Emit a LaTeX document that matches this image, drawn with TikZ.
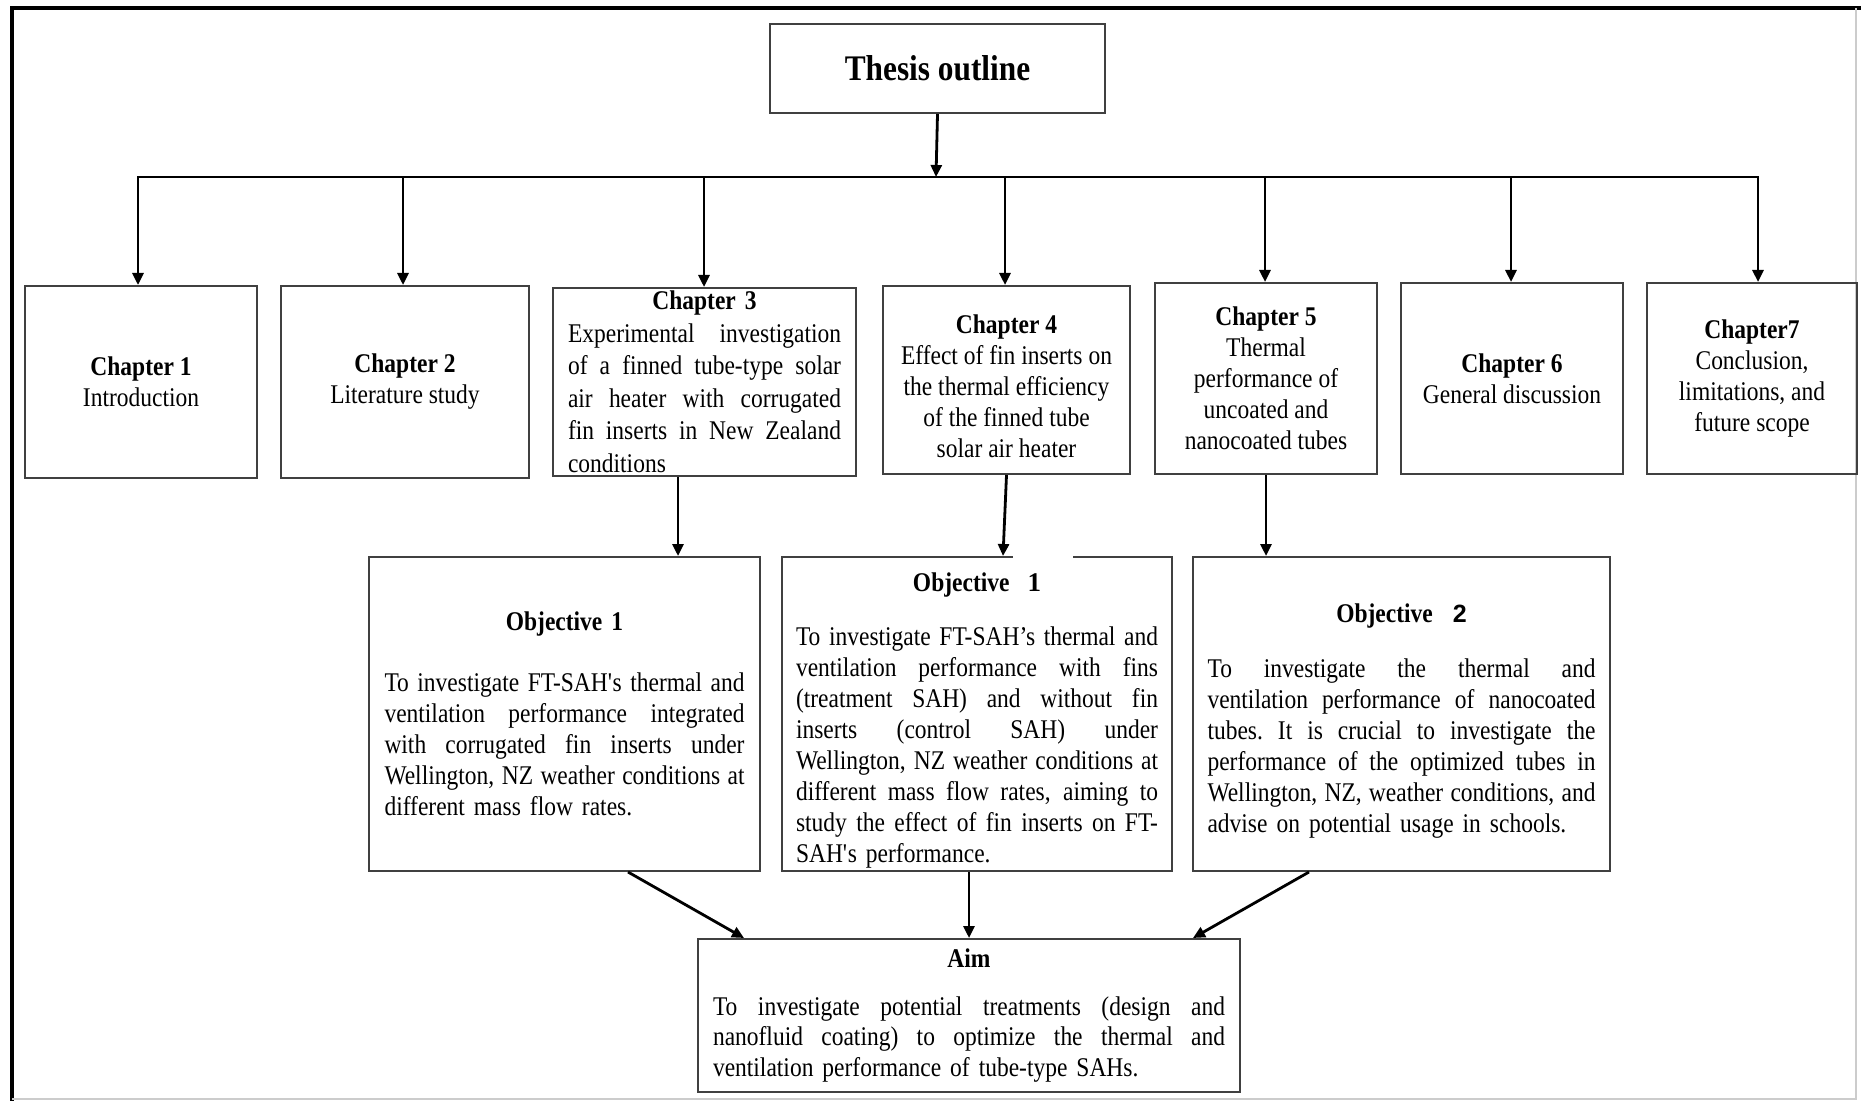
\documentclass[tikz,border=0pt]{standalone}
\usepackage{fontspec}
\setmainfont{Liberation Serif}[FakeStretch=0.87]
\newfontfamily\digserif{Liberation Serif}
\newfontfamily\digsans{Liberation Sans}
\usetikzlibrary{arrows.meta}
% one justified line of a paragraph, and one centred line
\newcommand{\jl}[1]{\leavevmode\hbox to\hsize{\spaceskip=0.25em plus 1fil\relax\xspaceskip=\spaceskip #1}\\}
\newcommand{\ctr}[1]{\leavevmode\hbox to\hsize{\hss#1\hss}}
\newcommand{\tallstrut}{\rule{0pt}{16pt}}
\begin{document}
\begin{tikzpicture}[x=0.5pt,y=-0.5pt,
  box/.style={draw=black!75, line width=1pt, inner sep=0pt, anchor=north west,
              font=\fontsize{13.5}{15.5}\selectfont},
  chap/.style={box, align=center},
  para/.style={box, align=left},
  link/.style={line width=1.4pt, black},
  arr/.style={link, -{Triangle[length=6pt,width=5.5pt]}}]
\useasboundingbox (0,0) rectangle (1861,1101);

% outer frame
\draw[line width=2.4pt] (12,1101) -- (12,8) -- (1861,8);
\draw[black!20, line width=1pt] (1856,8) -- (1856,1099) -- (12,1099);

% title
\node[box, minimum width=167.5pt, minimum height=44.5pt,
      font=\fontsize{18}{22}\selectfont\bfseries] (thesis) at (769,23) {Thesis outline};

% chapters
\node[chap, minimum width=116pt, minimum height=96pt] (ch1) at (24,285)
  {\textbf{Chapter 1}\\Introduction};
\node[chap, minimum width=124pt, minimum height=96pt] (ch2) at (280,285)
  {\textbf{Chapter 2}\\Literature study};
\node[para, text width=136.5pt, minimum width=151.5pt, minimum height=94pt,
      font=\fontsize{13.5}{16.25}\selectfont] (ch3) at (552,287)
  {\ctr{\textbf{Chapter 3}}\\
   \jl{Experimental investigation}
   \jl{of a finned tube-type solar}
   \jl{air heater with corrugated}
   \jl{fin inserts in New Zealand}
   conditions};
\node[chap, minimum width=123.5pt, minimum height=94pt] (ch4) at (882,285)
  {\tallstrut\textbf{Chapter 4}\\Effect of fin inserts on\\the thermal efficiency\\of the finned tube\\solar air heater};
\node[chap, minimum width=111pt, minimum height=95.5pt] (ch5) at (1154,282)
  {\textbf{Chapter 5}\\Thermal\\performance of\\uncoated and\\nanocoated tubes};
\node[chap, minimum width=111pt, minimum height=95.5pt] (ch6) at (1400,282)
  {\textbf{Chapter 6}\\General discussion};
\node[chap, minimum width=105pt, minimum height=95.5pt] (ch7) at (1646,282)
  {\textbf{Chapter7}\\Conclusion,\\limitations, and\\future scope};

% objectives
\node[para, text width=180pt, minimum width=195.5pt, minimum height=157pt] (obj1) at (368,556)
  {\ctr{\textbf{Objective 1}}\\[15pt]
   \jl{To investigate FT-SAH\textquotesingle s thermal and}
   \jl{ventilation performance integrated}
   \jl{with corrugated fin inserts under}
   \jl{Wellington, NZ weather conditions at}
   different mass flow rates.};
\node[para, text width=181pt, minimum width=195pt, minimum height=157pt] (obj2) at (781,556)
  {\ctr{\tallstrut\textbf{Objective}\hspace{9pt}{\digserif\bfseries 1}}\\[11.5pt]
   \jl{To investigate FT-SAH’s thermal and}
   \jl{ventilation performance with fins}
   \jl{(treatment SAH) and without fin}
   \jl{inserts (control SAH) under}
   \jl{Wellington, NZ weather conditions at}
   \jl{different mass flow rates, aiming to}
   \jl{study the effect of fin inserts on FT-}
   SAH\textquotesingle s performance.};
\fill[white] (1013,551) rectangle (1073,561);
\node[para, text width=194pt, minimum width=208.5pt, minimum height=157pt] (obj3) at (1192,556)
  {\ctr{\tallstrut\textbf{Objective}\hspace{10pt}{\digsans\bfseries\fontsize{12.5}{15}\selectfont 2}}\\[12pt]
   \jl{To investigate the thermal and}
   \jl{ventilation performance of nanocoated}
   \jl{tubes. It is crucial to investigate the}
   \jl{performance of the optimized tubes in}
   \jl{Wellington, NZ, weather conditions, and}
   advise on potential usage in schools.};

% aim
\node[para, text width=256pt, minimum width=271pt, minimum height=76.5pt,
      font=\fontsize{13.5}{15.25}\selectfont] (aim) at (697,938)
  {\ctr{\textbf{Aim}}\\[8.5pt]
   \jl{To investigate potential treatments (design and}
   \jl{nanofluid coating) to optimize the thermal and}
   ventilation performance of tube-type SAHs.};

% distribution bus
\coordinate (t0) at (936,177);
\coordinate (t1) at (138,177);
\coordinate (t2) at (403,177);
\coordinate (t3) at (704,177);
\coordinate (t4) at (1005,177);
\coordinate (t5) at (1265,177);
\coordinate (t6) at (1511,177);
\coordinate (t7) at (1758,177);
\draw[link, line cap=rect] (t1) -- (t7);
\draw[arr] (thesis.south) -- (t0);
\foreach \i in {1,...,7} \draw[arr] (t\i) -- (t\i |- ch\i.north);

% chapters to objectives
\coordinate (d3) at (678,0);
\coordinate (d4) at (1003,0);
\draw[arr] (ch3.south -| d3) -- (obj1.north -| d3);
\draw[arr] (ch4.south) -- (obj2.north -| d4);
\draw[arr] (ch5.south) -- (obj3.north -| ch5.south);

% objectives to aim
\coordinate (s1) at (628,0);
\coordinate (e1) at (744,0);
\coordinate (s3) at (1309,0);
\coordinate (e3) at (1193,0);
\draw[arr] (obj1.south -| s1) -- (aim.north -| e1);
\draw[arr] (obj2.south -| aim.north) -- (aim.north);
\draw[arr] (obj3.south -| s3) -- (aim.north -| e3);
\end{tikzpicture}
\end{document}
